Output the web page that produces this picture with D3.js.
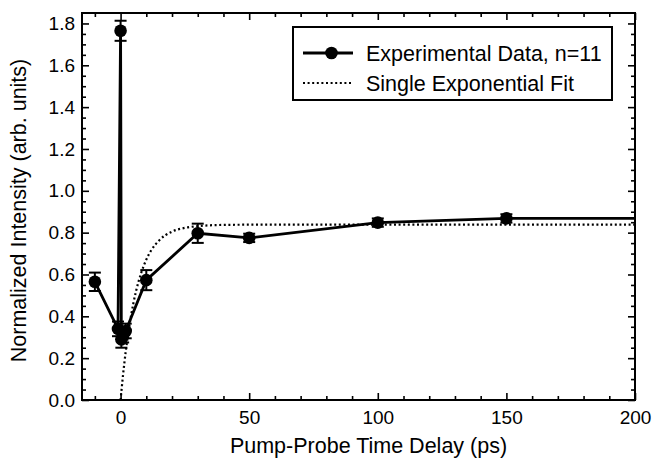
<!DOCTYPE html>
<html>
<head>
<meta charset="utf-8">
<script src="https://cdn.jsdelivr.net/npm/d3@7"></script>
<style>
  html, body { margin: 0; padding: 0; background: #fff; }
  svg { display: block; font-family: "Liberation Sans", Arial, Helvetica, sans-serif; }
</style>
</head>
<body>
<svg id="chart" width="655" height="462"></svg>
<script>
// ---- data ----
const times      = [-10, -1, 0, 0.3, 1, 2, 10, 30, 50, 100, 150, 250];
const intensity  = [0.565, 0.34, 1.765, 0.29, 0.31, 0.33, 0.573, 0.797, 0.775, 0.848, 0.868, 0.868];
const errors     = [0.044, 0.035, 0.048, 0.04, 0.035, 0.035, 0.048, 0.046, 0.02, 0.02, 0.02, 0.02];

const fitTimes   = [0, 1, 2, 3, 4, 5, 6, 8, 10, 12, 15, 20, 25, 30, 40, 50, 100, 200];
const fitValues  = [0, 0.125, 0.231, 0.321, 0.398, 0.464, 0.520, 0.607, 0.671, 0.717, 0.763, 0.805, 0.823, 0.831, 0.837, 0.838, 0.838, 0.838];

const xMajorTicks = [0, 50, 100, 150, 200];
const yMajorTicks = [0.0, 0.2, 0.4, 0.6, 0.8, 1.0, 1.2, 1.4, 1.6, 1.8];
const xTitle = "Pump-Probe Time Delay (ps)";
const yTitle = "Normalized Intensity (arb. units)";
const legendLabels = ["Experimental Data, n=11", "Single Exponential Fit"];

// ---- layout ----
const W = 655, H = 462;
const m = { left: 82, top: 13, right: 20, bottom: 62 };
const iw = W - m.left - m.right, ih = H - m.top - m.bottom;
const tickFont = 19, titleFont = 21.5;

const svg = d3.select("#chart");
const g = svg.append("g").attr("transform", `translate(${m.left},${m.top})`);

const x = d3.scaleLinear().domain([-15, 200]).range([0, iw]);
const y = d3.scaleLinear().domain([0, 1.85]).range([ih, 0]);

const xMinor = d3.range(-10, 201, 10).filter(v => !xMajorTicks.includes(v));
const yMinor = d3.range(0, 37).map(i => +(i * 0.05).toFixed(2)).filter(v => !yMajorTicks.some(t => Math.abs(t - v) < 1e-9));

function styleAxis(sel) {
  sel.select(".domain").remove();
  sel.selectAll(".tick line").attr("stroke", "#000").attr("stroke-width", 1.6);
  sel.selectAll(".tick text").attr("fill", "#000").attr("font-size", tickFont)
     .attr("font-family", "'Liberation Sans', Arial, sans-serif");
}

// bottom axis
g.append("g").attr("transform", `translate(0,${ih})`)
  .call(d3.axisBottom(x).tickValues(xMajorTicks).tickFormat(d3.format("d")).tickSize(-7).tickPadding(11))
  .call(styleAxis);
g.append("g").attr("transform", `translate(0,${ih})`)
  .call(d3.axisBottom(x).tickValues(xMinor).tickFormat("").tickSize(-4))
  .call(styleAxis);
// top axis
g.append("g")
  .call(d3.axisTop(x).tickValues(xMajorTicks).tickFormat("").tickSize(-7))
  .call(styleAxis);
g.append("g")
  .call(d3.axisTop(x).tickValues(xMinor).tickFormat("").tickSize(-4))
  .call(styleAxis);
// left axis
g.append("g")
  .call(d3.axisLeft(y).tickValues(yMajorTicks).tickFormat(d3.format(".1f")).tickSize(-7).tickPadding(7))
  .call(styleAxis);
g.append("g")
  .call(d3.axisLeft(y).tickValues(yMinor).tickFormat("").tickSize(-4))
  .call(styleAxis);
// right axis
g.append("g").attr("transform", `translate(${iw},0)`)
  .call(d3.axisRight(y).tickValues(yMajorTicks).tickFormat("").tickSize(-7))
  .call(styleAxis);
g.append("g").attr("transform", `translate(${iw},0)`)
  .call(d3.axisRight(y).tickValues(yMinor).tickFormat("").tickSize(-4))
  .call(styleAxis);

// clip
svg.append("defs").append("clipPath").attr("id", "clip")
  .append("rect").attr("x", 0).attr("y", 0).attr("width", iw).attr("height", ih);

const plot = g.append("g").attr("clip-path", "url(#clip)");

// fit line
const fitData = fitTimes.map((t, i) => ({ t, v: fitValues[i] }));
plot.append("path").datum(fitData)
  .attr("fill", "none").attr("stroke", "#000").attr("stroke-width", 2.2)
  .attr("stroke-dasharray", "2,2.6")
  .attr("d", d3.line().x(d => x(d.t)).y(d => y(d.v)).curve(d3.curveMonotoneX));

// data
const data = times.map((t, i) => ({ t, v: intensity[i], e: errors[i] }));
plot.append("path").datum(data)
  .attr("fill", "none").attr("stroke", "#000").attr("stroke-width", 2.8)
  .attr("d", d3.line().x(d => x(d.t)).y(d => y(d.v)));

const eb = plot.selectAll(".eb").data(data).join("g").attr("class", "eb");
const cap = 6;
eb.append("line").attr("x1", d => x(d.t)).attr("x2", d => x(d.t))
  .attr("y1", d => y(d.v - d.e)).attr("y2", d => y(d.v + d.e))
  .attr("stroke", "#000").attr("stroke-width", 2);
eb.append("line").attr("x1", d => x(d.t) - cap).attr("x2", d => x(d.t) + cap)
  .attr("y1", d => y(d.v + d.e)).attr("y2", d => y(d.v + d.e))
  .attr("stroke", "#000").attr("stroke-width", 2);
eb.append("line").attr("x1", d => x(d.t) - cap).attr("x2", d => x(d.t) + cap)
  .attr("y1", d => y(d.v - d.e)).attr("y2", d => y(d.v - d.e))
  .attr("stroke", "#000").attr("stroke-width", 2);
plot.selectAll(".pt").data(data).join("circle").attr("class", "pt")
  .attr("cx", d => x(d.t)).attr("cy", d => y(d.v)).attr("r", 6.3).attr("fill", "#000");

// frame
g.append("rect").attr("x", 0).attr("y", 0).attr("width", iw).attr("height", ih)
  .attr("fill", "none").attr("stroke", "#000").attr("stroke-width", 2);

// titles
svg.append("text").attr("x", m.left + iw / 2 + 10).attr("y", 453)
  .attr("text-anchor", "middle").attr("font-size", titleFont).attr("fill", "#000").text(xTitle);
svg.append("text").attr("transform", `translate(26,${m.top + ih / 2 + 4}) rotate(-90)`)
  .attr("text-anchor", "middle").attr("font-size", titleFont).attr("fill", "#000").text(yTitle);

// legend
const lg = svg.append("g").attr("transform", "translate(293,27)");
lg.append("rect").attr("width", 319).attr("height", 73)
  .attr("fill", "#fff").attr("stroke", "#000").attr("stroke-width", 2);
lg.append("line").attr("x1", 10).attr("x2", 60).attr("y1", 26).attr("y2", 26)
  .attr("stroke", "#000").attr("stroke-width", 2.8);
lg.append("circle").attr("cx", 38.5).attr("cy", 26).attr("r", 6.3).attr("fill", "#000");
lg.append("line").attr("x1", 10).attr("x2", 60).attr("y1", 56).attr("y2", 56)
  .attr("stroke", "#000").attr("stroke-width", 2.2).attr("stroke-dasharray", "2,2.6");
lg.selectAll(".lt").data(legendLabels).join("text").attr("class", "lt")
  .attr("x", 73).attr("y", (d, i) => 26 + i * 30).attr("dy", "0.35em")
  .attr("font-size", titleFont).attr("fill", "#000").text(d => d);
</script>
</body>
</html>
